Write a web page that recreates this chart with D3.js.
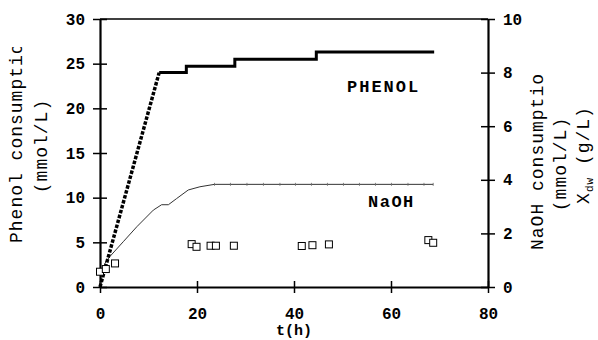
<!DOCTYPE html>
<html><head><meta charset="utf-8">
<script src="https://cdn.jsdelivr.net/npm/d3@7"></script>
<style>body{margin:0;background:#fff}svg{display:block}</style></head>
<body>
<svg id="c" width="598" height="340"></svg>
<script>
// ---- data ----
const xTicks = [0, 20, 40, 60, 80];
const leftTicks = [0, 5, 10, 15, 20, 25, 30];
const rightTicks = [0, 2, 4, 6, 8, 10];
const phenolRampT = [0, 12.2];
const phenolRamp = [0, 24];
const phenolStepT = [12.2, 17.8, 27.8, 44.6, 68.9];
const phenolStep = [24, 24.7, 25.5, 26.3, 26.3];
const naohT = [0, 1, 2, 4.8, 7.6, 11, 12.7, 14.1, 15.8, 18.2, 20.6, 23.6, 26.9, 30.3, 33.7, 37.1, 40.3, 43.6, 46.9, 50.2, 53.5, 56.8, 60.1, 63.5, 66.8, 68.7];
const naoh = [0, 0.88, 1.13, 1.69, 2.25, 2.87, 3.07, 3.07, 3.3, 3.62, 3.74, 3.83, 3.83, 3.83, 3.83, 3.83, 3.83, 3.83, 3.83, 3.83, 3.83, 3.83, 3.83, 3.83, 3.83, 3.83];
const xdwT = [0, 1.2, 3.1, 18.9, 19.9, 22.8, 23.9, 27.6, 41.6, 43.8, 47.2, 67.7, 68.7];
const xdw = [0.57, 0.67, 0.88, 1.6, 1.5, 1.54, 1.54, 1.54, 1.53, 1.56, 1.59, 1.75, 1.65];

const FONT = "'Liberation Mono','Courier New',monospace";
const svg = d3.select("#c");
const x = d3.scaleLinear().domain([0, 80]).range([100, 488]);
const yL = d3.scaleLinear().domain([0, 30]).range([287, 19]);
const yR = d3.scaleLinear().domain([0, 10]).range([287, 19]);

// top frame
svg.append("line").attr("x1", x(0)).attr("x2", x(80)).attr("y1", yL(30)).attr("y2", yL(30))
  .attr("stroke", "#000").attr("stroke-width", 1.5);

function styleAxis(g) {
  g.select(".domain").attr("stroke-width", 2.2);
  g.selectAll(".tick line").attr("stroke-width", 1.5);
  g.selectAll(".tick text").attr("font-family", FONT).attr("font-weight", "bold")
    .attr("font-size", 16).attr("fill", "#000");
}
const gx = svg.append("g").attr("transform", `translate(0,${yL(0)})`)
  .call(d3.axisBottom(x).tickValues(xTicks).tickSize(6).tickSizeOuter(0).tickPadding(15));
styleAxis(gx);
gx.selectAll(".tick line").attr("y1", -6);
const gl = svg.append("g").attr("transform", `translate(${x(0)},0)`)
  .call(d3.axisLeft(yL).tickValues(leftTicks).tickSize(7).tickSizeOuter(0).tickPadding(8));
styleAxis(gl);
gl.selectAll(".tick line").attr("x1", 7);
const gr = svg.append("g").attr("transform", `translate(${x(80)},0)`)
  .call(d3.axisRight(yR).tickValues(rightTicks).tickSize(7).tickSizeOuter(0).tickPadding(8));
styleAxis(gr);
gr.selectAll(".tick line").attr("x1", -7);

// NaOH curve
const naohPts = naohT.map((t, i) => [t, naoh[i]]);
svg.append("path").datum(naohPts)
  .attr("d", d3.line().x(d => x(d[0])).y(d => yR(d[1])))
  .attr("fill", "none").attr("stroke", "#333").attr("stroke-width", 1);
svg.append("g").selectAll("line").data(naohPts.filter(d => d[0] > 23)).join("line")
  .attr("x1", d => x(d[0])).attr("x2", d => x(d[0]))
  .attr("y1", d => yR(d[1]) - 1.5).attr("y2", d => yR(d[1]) + 1.5)
  .attr("stroke", "#666").attr("stroke-width", 0.8);

// Phenol
const rampPts = phenolRampT.map((t, i) => [t, phenolRamp[i]]);
svg.append("path").datum(rampPts)
  .attr("d", d3.line().x(d => x(d[0])).y(d => yL(d[1])))
  .attr("fill", "none").attr("stroke", "#000").attr("stroke-width", 3.5)
  .attr("stroke-dasharray", "3.5,1.6");
const stepPts = phenolStepT.map((t, i) => [t, phenolStep[i]]);
svg.append("path").datum(stepPts)
  .attr("d", d3.line().curve(d3.curveStepAfter).x(d => x(d[0])).y(d => yL(d[1])))
  .attr("fill", "none").attr("stroke", "#000").attr("stroke-width", 3);

// Xdw squares
svg.append("g").selectAll("rect").data(xdwT.map((t, i) => [t, xdw[i]])).join("rect")
  .attr("x", d => x(d[0]) - 3.5).attr("y", d => yR(d[1]) - 3.5)
  .attr("width", 7).attr("height", 7)
  .attr("fill", "#fff").attr("stroke", "#000").attr("stroke-width", 1);

// series labels
svg.append("text").attr("x", 347).attr("y", 92).text("PHENOL")
  .attr("font-family", FONT).attr("font-weight", "bold").attr("font-size", 17)
  .attr("letter-spacing", 2);
svg.append("text").attr("x", 368).attr("y", 207).text("NaOH")
  .attr("font-family", FONT).attr("font-weight", "bold").attr("font-size", 17)
  .attr("letter-spacing", 1.5);

// axis titles (clipped like the reference)
const defs = svg.append("defs");
defs.append("clipPath").attr("id", "clipL").append("rect").attr("x", 0).attr("y", 47).attr("width", 60).attr("height", 293);
defs.append("clipPath").attr("id", "clipR").append("rect").attr("x", 520).attr("y", 72).attr("width", 78).attr("height", 268);

function vt(parent, tx, ty, str, anchor) {
  return parent.append("text").attr("transform", `translate(${tx},${ty}) rotate(-90)`)
    .attr("font-family", FONT).attr("font-size", 18).attr("letter-spacing", 1)
    .attr("text-anchor", anchor).text(str);
}
vt(svg.append("g").attr("clip-path", "url(#clipL)"), 22, 243, "Phenol consumption", "start");
vt(svg, 47, 146, "(mmol/L)", "middle");
vt(svg.append("g").attr("clip-path", "url(#clipR)"), 543, 250, "NaOH consumption", "start");
vt(svg, 566, 164, "(mmol/L)", "middle");
const xt = svg.append("text").attr("transform", "translate(589,155) rotate(-90)")
  .attr("font-family", FONT).attr("font-size", 18).attr("letter-spacing", 1).attr("text-anchor", "middle");
xt.append("tspan").text("X");
xt.append("tspan").attr("font-size", 11).attr("dy", 4).text("dw");
xt.append("tspan").attr("dy", -4).text(" (g/L)");

// x title
svg.append("text").attr("x", x(40)).attr("y", 335).attr("text-anchor", "middle")
  .attr("font-family", FONT).attr("font-weight", "bold").attr("font-size", 15).text("t(h)");
</script>
</body></html>
